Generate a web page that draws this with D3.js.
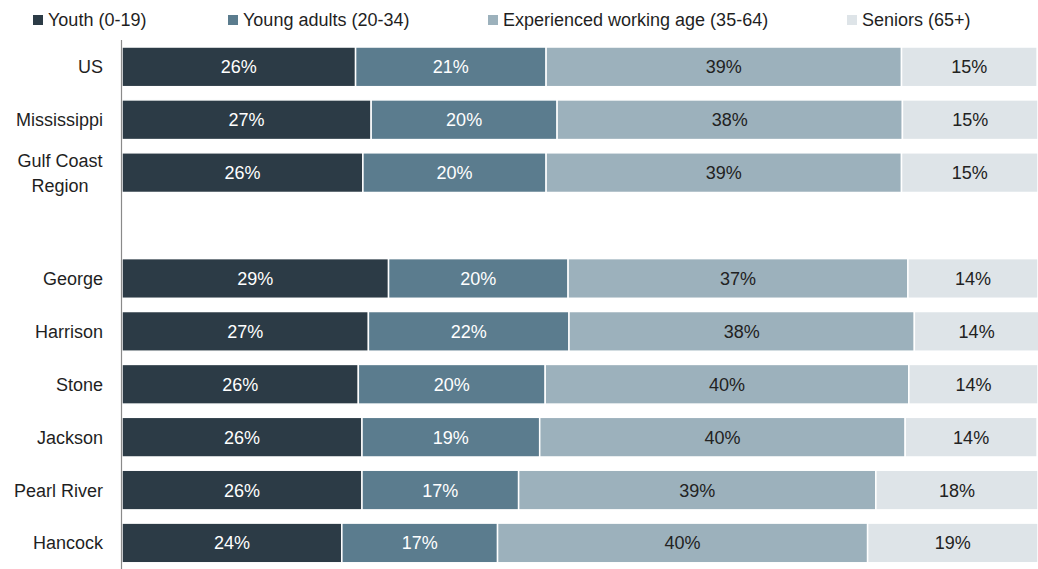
<!DOCTYPE html>
<html>
<head>
<meta charset="utf-8">
<script src="https://cdn.jsdelivr.net/npm/d3@7/dist/d3.min.js"></script>
<style>
  html, body { margin: 0; padding: 0; background: #ffffff; }
  svg { display: block; }
  text { font-family: "Liberation Sans", Arial, sans-serif; }
</style>
</head>
<body>
<svg id="chart" width="1038" height="569"></svg>
<script>
// ---- data ----
const categories = ["US", "Mississippi", "Gulf Coast Region", "", "George", "Harrison", "Stone", "Jackson", "Pearl River", "Hancock"];
const seriesNames = ["Youth (0-19)", "Young adults (20-34)", "Experienced working age (35-64)", "Seniors (65+)"];
const youth       = [25.5, 27.2, 26.3, null, 29.1, 26.9, 25.8, 26.2, 26.2, 24.0];
const youngAdults = [20.8, 20.3, 20.0, null, 19.6, 21.9, 20.4, 19.4, 17.1, 17.0];
const experienced = [38.8, 37.7, 38.8, null, 37.1, 37.7, 39.7, 39.9, 39.0, 40.4];
const seniors     = [14.8, 14.8, 14.9, null, 14.2, 13.6, 14.1, 14.4, 17.7, 18.6];
const colors      = ["#2c3b46", "#5b7c8e", "#9cb1bc", "#dee4e8"];
const labelColors = ["#ffffff", "#ffffff", "#222222", "#222222"];

// ---- build ----
const seriesValues = [youth, youngAdults, experienced, seniors];
const keys = ["s0", "s1", "s2", "s3"];
const rows = categories.map((c, i) => {
  const r = { cat: c, idx: i, blank: c === "" };
  keys.forEach((k, j) => r[k] = seriesValues[j][i] || 0);
  return r;
});
const dataRows = rows.filter(r => !r.blank);

const svg = d3.select("#chart");
const x = d3.scaleLinear().domain([0, 100]).range([122, 1038]);
const y = d3.scaleBand().domain(d3.range(categories.length)).range([40.4, 569.4])
  .paddingInner(0.25).paddingOuter(0.125);

const stack = d3.stack().keys(keys);
const stacked = stack(dataRows);

const g = svg.append("g");
stacked.forEach((layer, li) => {
  const lg = g.append("g");
  lg.selectAll("rect").data(layer).join("rect")
    .attr("x", d => x(d[0]))
    .attr("y", d => y(d.data.idx))
    .attr("width", d => x(d[1]) - x(d[0]))
    .attr("height", y.bandwidth())
    .attr("fill", colors[li])
    .attr("stroke", "#ffffff")
    .attr("stroke-width", 1.5);
  lg.selectAll("text").data(layer).join("text")
    .attr("x", d => (x(d[0]) + x(d[1])) / 2)
    .attr("y", d => y(d.data.idx) + y.bandwidth() / 2)
    .attr("dy", "0.36em")
    .attr("text-anchor", "middle")
    .attr("font-size", 18)
    .attr("fill", labelColors[li])
    .text(d => Math.round(d[1] - d[0]) + "%");
});

// axis line (vertical)
svg.append("line")
  .attr("x1", 121.5).attr("x2", 121.5)
  .attr("y1", 40).attr("y2", 569)
  .attr("stroke", "#8a8a8a").attr("stroke-width", 1.2);

// category labels
const yAxis = d3.axisLeft(y).tickSize(0).tickFormat(i => categories[i]);
const ax = svg.append("g").attr("transform", "translate(103,0)").call(yAxis);
ax.select(".domain").remove();
ax.selectAll(".tick text").attr("font-size", 18).attr("fill", "#1f1f1f")
  .attr("font-family", "'Liberation Sans', Arial, sans-serif")
  .attr("x", 0).attr("dy", "0.36em")
  .each(function(i) {
    const name = categories[i];
    const t = d3.select(this);
    if (name === "Gulf Coast Region") {
      t.text(null).attr("text-anchor", "middle").attr("dy", null);
      t.append("tspan").attr("x", -43).attr("dy", "-0.33em").text("Gulf Coast");
      t.append("tspan").attr("x", -43).attr("dy", "1.4em").text("Region");
    }
  });

// legend
const legendX = [33, 228, 488, 847];
const lg = svg.append("g");
seriesNames.forEach((n, i) => {
  lg.append("rect").attr("x", legendX[i]).attr("y", 15).attr("width", 10).attr("height", 10).attr("fill", colors[i]);
  lg.append("text").attr("x", legendX[i] + 15).attr("y", 20).attr("dy", "0.36em")
    .attr("font-size", 18).attr("fill", "#1f1f1f").text(n);
});
</script>
</body>
</html>
